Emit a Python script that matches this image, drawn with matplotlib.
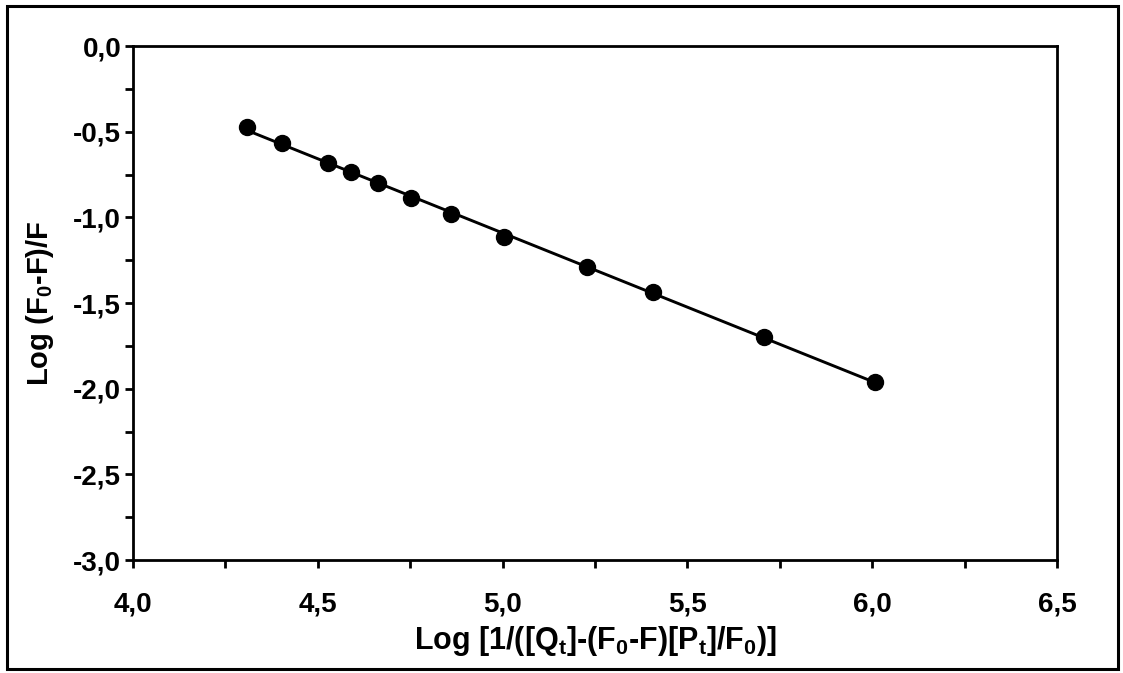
import numpy as np
import matplotlib
matplotlib.use("Agg")
import matplotlib.pyplot as plt
from matplotlib.ticker import MultipleLocator, FuncFormatter
from matplotlib.patches import Rectangle

# Double-log plot data
log_q = [4.308, 4.402, 4.528, 4.590, 4.664, 4.751, 4.860, 5.005, 5.228, 5.406, 5.707, 6.009]
log_f = [-0.471, -0.568, -0.681, -0.737, -0.802, -0.886, -0.982, -1.113, -1.292, -1.434, -1.697, -1.960]

x_ticks = [4.0, 4.5, 5.0, 5.5, 6.0, 6.5]
y_ticks = [0.0, -0.5, -1.0, -1.5, -2.0, -2.5, -3.0]

plt.rcParams['font.family'] = ['Liberation Sans', 'DejaVu Sans']
plt.rcParams['font.weight'] = 'bold'
plt.rcParams['mathtext.fontset'] = 'custom'
plt.rcParams['mathtext.rm'] = 'Liberation Sans:bold'
plt.rcParams['mathtext.it'] = 'Liberation Sans:bold'
plt.rcParams['mathtext.bf'] = 'Liberation Sans:bold'
plt.rcParams['mathtext.default'] = 'rm'

fig = plt.figure(figsize=(11.23, 6.73), dpi=100)
ax = fig.add_axes([0.1184, 0.1679, 0.8228, 0.7637])

# linear regression line across the measured range
slope, intercept = np.polyfit(log_q, log_f, 1)
xs = np.array([min(log_q), max(log_q)])
ax.plot(xs, slope * xs + intercept, color='black', lw=2.1, zorder=2)
ax.plot(log_q, log_f, 'o', color='black', ms=11.5, zorder=3)

ax.set_xlim(4.0, 6.5)
ax.set_ylim(-3.0, 0.0)
ax.set_xticks(x_ticks)
ax.set_yticks(y_ticks)
ax.xaxis.set_minor_locator(MultipleLocator(0.25))
ax.yaxis.set_minor_locator(MultipleLocator(0.25))

comma = FuncFormatter(lambda v, p: f"{v:.1f}".replace('.', ','))
ax.xaxis.set_major_formatter(comma)
ax.yaxis.set_major_formatter(comma)

for s in ax.spines.values():
    s.set_linewidth(2.0)

ax.tick_params(which='both', direction='out', length=5.5, width=2.0, labelsize=20)
ax.tick_params(axis='x', which='major', pad=17)
ax.tick_params(axis='y', which='major', pad=3)

ax.set_xlabel('Log [1/([Q$_\\mathrm{t}$]-(F$_\\mathrm{0}$-F)[P$_\\mathrm{t}$]/F$_\\mathrm{0}$)]',
              fontsize=22, fontweight='bold', labelpad=5)
ax.set_ylabel('Log (F$_\\mathrm{0}$-F)/F', fontsize=21, fontweight='bold', labelpad=12)

# outer border around the figure
fig.patches.append(Rectangle((0.0062, 0.006), 0.9893, 0.985, transform=fig.transFigure,
                             fill=False, edgecolor='black', lw=2.2))

fig.savefig('out.png', dpi=100)
